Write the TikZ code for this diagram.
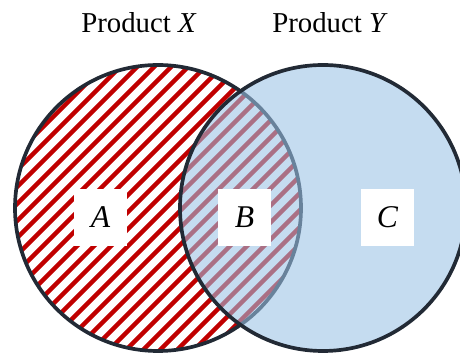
\documentclass[tikz,border=0pt]{standalone}
\usepackage{fontspec}
\setmainfont{LiberationSerif}[Extension=.ttf,UprightFont=*-Regular,
    ItalicFont=*-Italic,BoldFont=*-Bold,BoldItalicFont=*-BoldItalic]
\definecolor{hatchred}{RGB}{192,0,0}
\definecolor{setblue}{RGB}{155,194,230}
\definecolor{rimdark}{RGB}{34,42,53}
\begin{document}
\begin{tikzpicture}[x=0.02cm,y=0.02cm,
    rim/.style={draw=rimdark,line width=2.1pt},
    stripe/.style={hatchred,line width=2.6pt},
    tag/.style={fill=white,inner sep=0pt,minimum width=1.06cm,
        minimum height=1.14cm,font=\fontsize{18}{20}\selectfont\itshape},
    title/.style={anchor=base,font=\fontsize{16.4}{19}\selectfont}]
        \def\rad{143}
        \useasboundingbox (0,0) rectangle (460,354);
        \coordinate (cX) at (158,146);
        \coordinate (cY) at (323,146);

        \begin{scope}
            \clip (cX) circle (\rad);
            \foreach \k in {-15,...,14}
                \draw[stripe] ({17*\k},-20) -- ++(420,420);
        \end{scope}
        \draw[rim] (cX) circle (\rad);
        \fill[setblue,fill opacity=0.58] (cY) circle (\rad);
        \draw[rim] (cY) circle (\rad);

        \node[tag] (labA) at (100.5,136.5) {A};
        \node[tag] (labB) at (244.5,136.5) {B};
        \node[tag] (labC) at (387.5,136.5) {C};
        \node[title] (titX) at (139,321) {Product \textit{X}};
        \node[title] (titY) at (330,321) {Product \textit{Y}};
    \end{tikzpicture}
\end{document}
